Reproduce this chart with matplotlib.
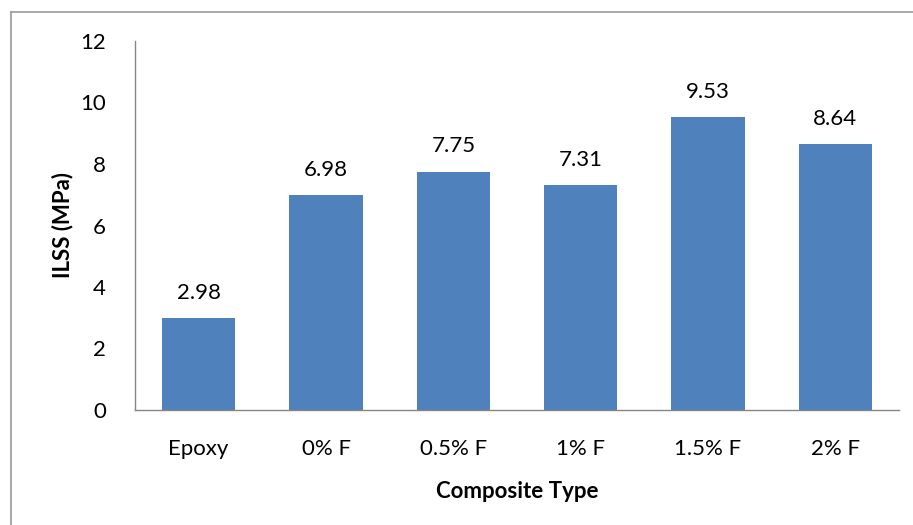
import matplotlib
matplotlib.use("Agg")
import matplotlib.pyplot as plt
from matplotlib.lines import Line2D

categories = ["Epoxy", "0% F", "0.5% F", "1% F", "1.5% F", "2% F"]
ilss = [2.98, 6.98, 7.75, 7.31, 9.53, 8.64]
yticks = [0, 2, 4, 6, 8, 10, 12]

plt.rcParams['font.family'] = ['Lato', 'DejaVu Sans']

W, H = 913, 525
fig = plt.figure(figsize=(W / 100, H / 100), dpi=100)
ax = fig.add_axes([135 / W, 1 - 410 / H, (899 - 135) / W, (410 - 41) / H])

FS = 16
x = list(range(len(categories)))
bars = ax.bar(x, ilss, width=0.575, color="#4F81BD")
for xi, v in zip(x, ilss):
    ax.text(xi, v + 0.5, f"{v:.2f}", ha="center", va="bottom", fontsize=FS, color="#000000")

ax.set_xlim(-0.5, len(categories) - 0.5)
ax.set_ylim(0, 12)
ax.set_yticks(yticks)
ax.set_yticklabels([str(t) for t in yticks], fontsize=FS)
ax.set_xticks(x)
ax.set_xticklabels(categories, fontsize=FS)
ax.tick_params(axis="both", length=0)
ax.tick_params(axis="y", pad=21)
ax.tick_params(axis="x", pad=21)
for s in ["top", "right"]:
    ax.spines[s].set_visible(False)
for s in ["left", "bottom"]:
    ax.spines[s].set_color("#868686")
    ax.spines[s].set_linewidth(1.0)

ax.set_ylabel("ILSS (MPa)", fontsize=FS, fontweight="bold", labelpad=5)
ax.set_xlabel("Composite Type", fontsize=FS, fontweight="bold", labelpad=16)

# outer chart border (partially visible)
fig.add_artist(Line2D([11 / W, 1.0], [1 - 12 / H, 1 - 12 / H], transform=fig.transFigure, color="#9a9a9a", lw=1.2))
fig.add_artist(Line2D([11 / W, 11 / W], [0.0, 1 - 12 / H], transform=fig.transFigure, color="#9a9a9a", lw=1.2))

fig.savefig("out.png", dpi=100)
